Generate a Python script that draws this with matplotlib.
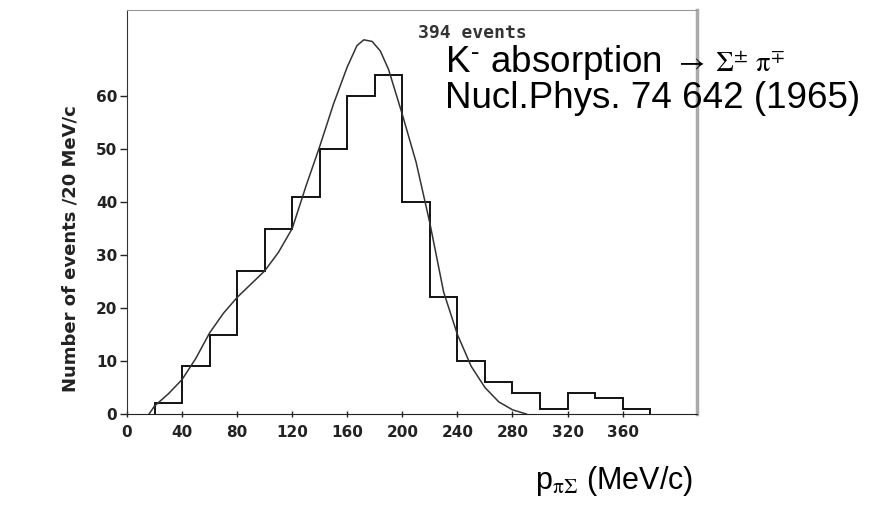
import numpy as np
import matplotlib
matplotlib.use("Agg")
import matplotlib.pyplot as plt

# histogram: 20 MeV/c bins from 20 to 380
bin_edges = [20, 40, 60, 80, 100, 120, 140, 160, 180, 200, 220, 240,
             260, 280, 300, 320, 340, 360, 380]
counts = [2, 9, 15, 27, 35, 41, 50, 60, 64, 40, 22, 10, 6, 4, 1, 4, 3, 1]

# fitted curve
curve_p = [16, 20, 30, 40, 50, 60, 70, 80, 90, 100, 110, 120, 130, 140, 150,
           160, 167, 172, 178, 184, 190, 200, 210, 220, 230, 240, 250, 260,
           270, 280, 290]
curve_n = [0, 1.5, 3.8, 6.5, 10.5, 15.3, 19, 22, 24.5, 27, 30.5, 35, 43,
           50.5, 58.5, 65.5, 69.5, 70.6, 70.3, 68.5, 65, 56.5, 47.5, 36, 23,
           15, 9, 5, 2.3, 0.8, 0]

xticks = [0, 40, 80, 120, 160, 200, 240, 280, 320, 360]
yticks = [0, 10, 20, 30, 40, 50, 60]

plt.rcParams['mathtext.fontset'] = 'stix'

fig = plt.figure(figsize=(8.71, 5.07), dpi=100)
ax = fig.add_axes([0.1458, 0.1834, 0.6544, 0.7966])

ax.stairs(counts, bin_edges, color='#111111', lw=1.4, baseline=0)
ax.plot(curve_p, curve_n, color='#333333', lw=1.1)

ax.set_xlim(0, 414)
ax.set_ylim(0, 76.2)
ax.set_xticks(xticks)
ax.set_yticks(yticks)
ax.tick_params(axis='y', direction='out', length=5, width=1, pad=2,
               labelsize=11, colors='#222222')
ax.tick_params(axis='x', direction='inout', length=4, width=1, pad=6,
               labelsize=11, colors='#222222')
for lab in ax.get_xticklabels() + ax.get_yticklabels():
    lab.set_fontweight('bold')

ax.spines['left'].set_color('#333333')
ax.spines['bottom'].set_color('#222222')
ax.spines['top'].set_color('#999999')
ax.spines['right'].set_color('#aaaaaa')
ax.spines['right'].set_linewidth(2.5)

ax.set_ylabel('Number of events /20 MeV/c', fontsize=13, fontweight='bold',
              color='#222222')
ax.yaxis.set_label_coords(-0.083, 0.41)

ax.text(0.51, 0.965, '394 events', transform=ax.transAxes,
        family='DejaVu Sans Mono', fontweight='bold', fontsize=13,
        color='#333333', va='top')

fig.text(0.5109, 0.858, r'K$^{\text{-}}$ absorption',
         family='Liberation Sans', fontsize=26.5, va='baseline')
fig.text(0.774, 0.858, r'$\rightarrow\ \Sigma^{\pm}\ \mathrm{\pi}^{\mp}$',
         fontsize=20.5, va='baseline')
fig.text(0.5109, 0.786, 'Nucl.Phys. 74 642 (1965)',
         family='Liberation Sans', fontsize=26.5, va='baseline')
fig.text(0.614, 0.036, r'p$_{\mathrm{\pi}\Sigma}$ (MeV/c)',
         family='Liberation Sans', fontsize=22, va='baseline')

fig.savefig('out.png', dpi=100)
